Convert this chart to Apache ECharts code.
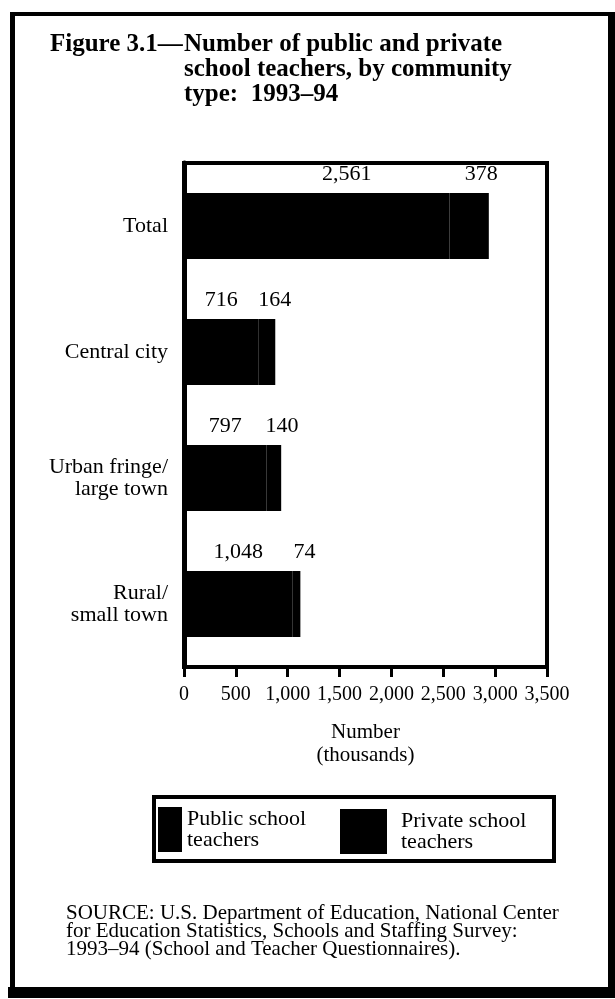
<!DOCTYPE html>
<html>
<head>
<meta charset="utf-8">
<script src="https://cdn.jsdelivr.net/npm/echarts@6/dist/echarts.min.js"></script>
<style>
html,body{margin:0;padding:0;background:#fff;}
#chart{width:615px;height:999px;}
</style>
</head>
<body>
<div id="chart"></div>
<script>
const categories = ['Total', 'Central city', 'Urban fringe/\nlarge town', 'Rural/\nsmall town'];
const publicTeachers = [2561, 716, 797, 1048];
const privateTeachers = [378, 164, 140, 74];
const xTicks = [0, 500, 1000, 1500, 2000, 2500, 3000, 3500];
const seriesNames = ['Public school\nteachers', 'Private school\nteachers'];

const SERIF = '"Liberation Serif", "Times New Roman", serif';
const fmt = v => Number(v).toLocaleString('en-US');

const chart = echarts.init(document.getElementById('chart'), null, {renderer: 'canvas'});

const publicData = publicTeachers.map((v, i) => i === 0 ? {value: v, label: {offset: [30, 0]}} : v);
const privateData = privateTeachers.map((v, i) => i === 0 ? {value: v, label: {offset: [12, 0]}} : v);

const legendText = {fontFamily: SERIF, fontSize: 22, color: '#000', lineHeight: 21};

const option = {
  backgroundColor: '#fff',
  animation: false,
  title: [
    {
      text: 'Figure 3.1—',
      left: 50, top: 32, padding: 0,
      textStyle: {fontFamily: SERIF, fontSize: 25, fontWeight: 'bold', color: '#000', lineHeight: 25}
    },
    {
      text: 'Number of public and private\nschool teachers, by community\ntype:  1993–94',
      left: 184, top: 32, padding: 0,
      textStyle: {fontFamily: SERIF, fontSize: 25, fontWeight: 'bold', color: '#000', lineHeight: 25}
    },
    {
      text: 'SOURCE: U.S. Department of Education, National Center\nfor Education Statistics, Schools and Staffing Survey:\n1993–94 (School and Teacher Questionnaires).',
      left: 66, top: 904, padding: 0,
      textStyle: {fontFamily: SERIF, fontSize: 21, fontWeight: 'normal', color: '#000', lineHeight: 18}
    }
  ],
  legend: [
    {
      left: 158, top: 807, padding: 0,
      itemWidth: 22, itemHeight: 43, itemGap: 0,
      icon: 'rect', selectedMode: false,
      textStyle: Object.assign({padding: [0, 0, 0, 1]}, legendText),
      data: [seriesNames[0]]
    },
    {
      left: 340, top: 809, padding: 0,
      itemWidth: 45, itemHeight: 43, itemGap: 0,
      icon: 'rect', selectedMode: false,
      textStyle: Object.assign({padding: [0, 0, 0, 10]}, legendText),
      data: [seriesNames[1]]
    }
  ],
  grid: {
    left: 184, top: 163, width: 363, height: 504,
    show: true, borderColor: '#000', borderWidth: 4, backgroundColor: 'transparent',
    containLabel: false
  },
  xAxis: {
    type: 'value', min: 0, max: 3500, interval: 500,
    name: 'Number\n(thousands)', nameLocation: 'middle', nameGap: 54,
    nameTextStyle: {fontFamily: SERIF, fontSize: 21, color: '#000', lineHeight: 23},
    axisLine: {show: true, lineStyle: {color: '#000', width: 3}},
    axisTick: {show: true, length: 10, lineStyle: {color: '#000', width: 3}},
    axisLabel: {
      fontFamily: SERIF, fontSize: 20, color: '#000', margin: 18,
      formatter: v => xTicks.indexOf(v) >= 0 ? fmt(v) : ''
    },
    splitLine: {show: false}
  },
  yAxis: {
    type: 'category', data: categories, inverse: true,
    axisLine: {show: true, lineStyle: {color: '#000', width: 5}},
    axisTick: {show: false},
    axisLabel: {fontFamily: SERIF, fontSize: 22, color: '#000', margin: 16, lineHeight: 22, align: 'right', padding: [0, 0, 14, 0]},
    splitLine: {show: false}
  },
  series: [
    {
      name: seriesNames[0], type: 'bar', stack: 'all', barWidth: 66,
      itemStyle: {color: '#000', borderColor: '#000', borderWidth: 3},
      label: {show: true, position: 'top', distance: 8, fontFamily: SERIF, fontSize: 22, color: '#000', formatter: p => fmt(p.value)},
      data: publicData
    },
    {
      name: seriesNames[1], type: 'bar', stack: 'all', barWidth: 66,
      itemStyle: {color: '#000', borderColor: '#000', borderWidth: 3},
      label: {show: true, position: 'top', distance: 8, offset: [8, 0], fontFamily: SERIF, fontSize: 22, color: '#000', formatter: p => fmt(p.value)},
      data: privateData
    }
  ],
  graphic: [
    {type: 'rect', shape: {x: 154, y: 797, width: 400, height: 64}, style: {fill: 'none', stroke: '#000', lineWidth: 4}, silent: true},
    {type: 'rect', shape: {x: 10, y: 12, width: 5, height: 980}, style: {fill: '#000'}, silent: true},
    {type: 'rect', shape: {x: 10, y: 12, width: 605, height: 4}, style: {fill: '#000'}, silent: true},
    {type: 'rect', shape: {x: 608, y: 12, width: 7, height: 980}, style: {fill: '#000'}, silent: true},
    {type: 'rect', shape: {x: 8, y: 987, width: 607, height: 11}, style: {fill: '#000'}, silent: true}
  ]
};

chart.setOption(option);
</script>
</body>
</html>
